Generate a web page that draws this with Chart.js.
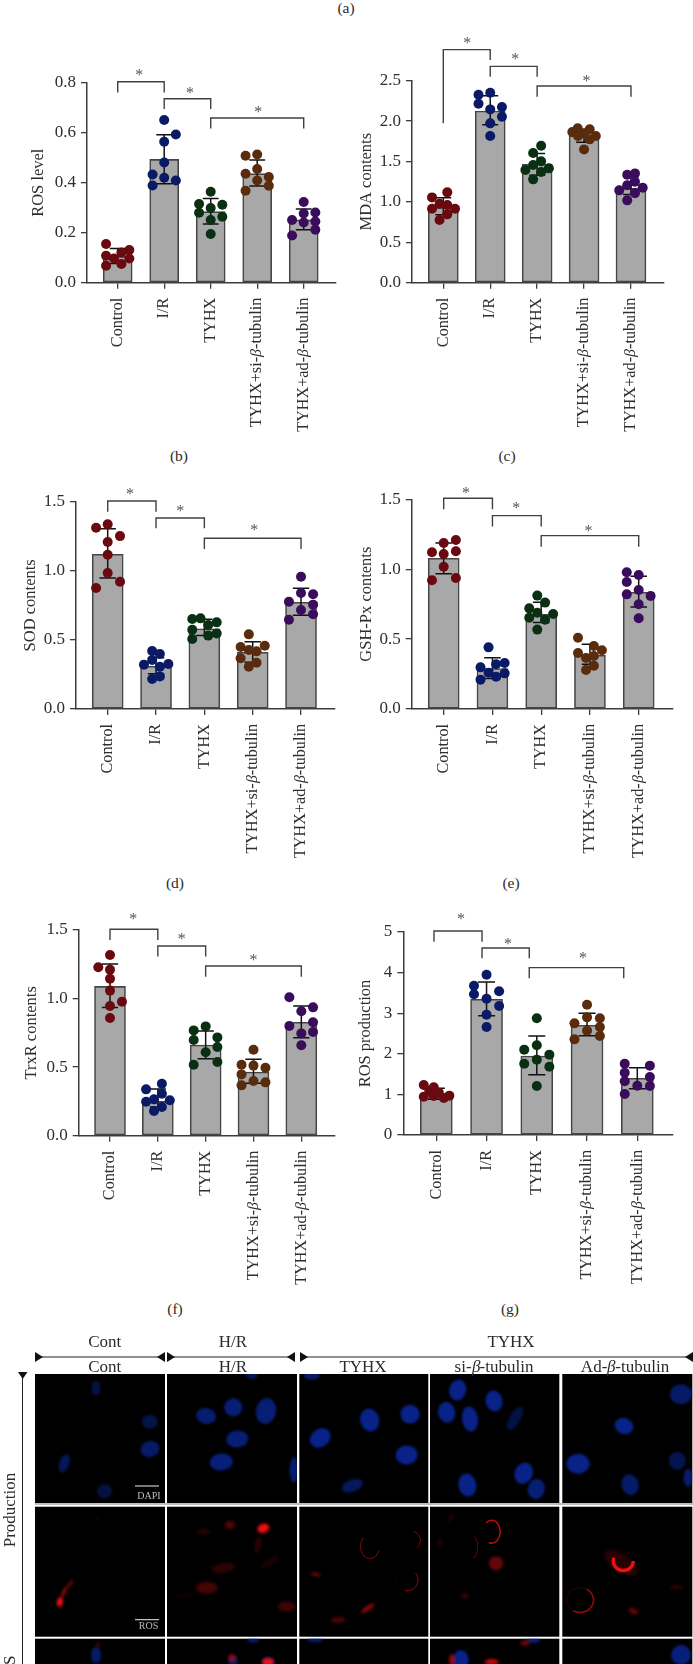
<!DOCTYPE html>
<html>
<head>
<meta charset="utf-8">
<script src="https://cdn.jsdelivr.net/npm/chart.js@4"></script>
<style>
@font-face { font-family: "SerifBeta"; src: local("Liberation Serif Italic"); unicode-range: U+3B2; }
html, body { margin: 0; padding: 0; background: #fff; }
#page { position: relative; width: 693px; height: 1664px; overflow: hidden; font-family: "SerifBeta", "Liberation Serif", serif; color: #2b2b2b; }
#page canvas { position: absolute; }
.lbl { position: absolute; white-space: nowrap; transform: translate(-50%, -50%); line-height: 1; }
</style>
</head>
<body>
<div id="page"></div>
<script>
const groups = ["Control", "I/R", "TYHX", "TYHX+si-β-tubulin", "TYHX+ad-β-tubulin"];
const dotColors = ["#6a0a10", "#0b1a66", "#0a3014", "#5a2c0e", "#3a0c5c"];

// (b) ROS level
const rosMean = [0.105, 0.493, 0.284, 0.436, 0.251];
const rosHigh = [0.137, 0.592, 0.337, 0.491, 0.295];
const rosLow = [0.077, 0.396, 0.235, 0.387, 0.212];
const rosDots = [
    [0.155, 0.131, 0.108, 0.121, 0.097, 0.097, 0.068, 0.075],
    [0.651, 0.593, 0.564, 0.481, 0.433, 0.42, 0.409, 0.389],
    [0.364, 0.315, 0.312, 0.299, 0.28, 0.264, 0.251, 0.195],
    [0.508, 0.513, 0.455, 0.436, 0.423, 0.409, 0.388, 0.368],
    [0.323, 0.277, 0.281, 0.251, 0.241, 0.245, 0.212, 0.189]
];
const rosJitter = [
    [-0.25, 0.25, -0.25, 0.08, -0.08, 0.25, -0.25, 0.08],
    [0, 0.25, 0, 0, -0.25, 0, 0.25, -0.25],
    [0, -0.25, 0.25, 0, -0.25, 0.25, 0, 0],
    [-0.25, 0, 0, -0.25, 0.25, 0, 0.25, -0.25],
    [0, 0, 0.25, -0.25, 0, 0.25, 0.25, -0.25]
];
const rosBrackets = [[0, 1, 0.761, 0.761, 0.804], [1, 2, 0.695, 0.695, 0.736], [2, 4, 0.617, 0.617, 0.659]];
const rosStars = [[0.466, 0.835], [1.556, 0.763], [3.025, 0.688]];

// (c) MDA contents
const mdaMean = [0.93, 2.125, 1.465, 1.82, 1.17];
const mdaHigh = [1.05, 2.314, 1.6, 1.9, 1.31];
const mdaLow = [0.84, 1.955, 1.33, 1.737, 1.093];
const mdaDots = [
    [1.118, 1.056, 0.978, 0.961, 0.916, 0.916, 0.846, 0.776],
    [2.35, 2.327, 2.215, 2.174, 2.145, 2.054, 1.972, 1.815],
    [1.696, 1.605, 1.502, 1.456, 1.394, 1.37, 1.415, 1.279],
    [1.91, 1.9, 1.865, 1.848, 1.815, 1.815, 1.774, 1.65],
    [1.337, 1.353, 1.205, 1.25, 1.143, 1.176, 1.106, 1.019]
];
const mdaJitter = [
    [0.085, -0.24, -0.08, 0.085, -0.24, 0.25, 0.085, -0.08],
    [0, -0.25, -0.25, 0.25, 0, 0.25, 0, 0],
    [0.085, -0.085, 0.085, -0.085, -0.25, 0.085, 0.25, -0.085],
    [-0.135, 0.12, -0.25, 0, -0.13, 0.25, 0.12, 0],
    [-0.08, 0.085, -0.08, 0.085, -0.25, 0.25, 0.085, -0.08]
];
const mdaBrackets = [[0, 1, 1.972, 2.756, 2.884], [1, 2, 2.55, 2.55, 2.677], [2, 4, 2.302, 2.302, 2.434]];
const mdaStars = [[0.51, 2.983], [1.535, 2.785], [3.05, 2.512]];

// (d) SOD contents
const sodMean = [1.119, 0.31, 0.581, 0.41, 0.772];
const sodHigh = [1.305, 0.37, 0.649, 0.487, 0.873];
const sodLow = [0.948, 0.255, 0.531, 0.338, 0.678];
const sodDots = [
    [1.336, 1.312, 1.251, 1.208, 1.116, 0.984, 0.921, 0.875],
    [0.42, 0.398, 0.354, 0.321, 0.326, 0.306, 0.236, 0.217],
    [0.651, 0.656, 0.627, 0.608, 0.574, 0.547, 0.531, 0.506],
    [0.54, 0.449, 0.458, 0.427, 0.417, 0.367, 0.335, 0.306],
    [0.957, 0.839, 0.83, 0.776, 0.755, 0.716, 0.685, 0.646]
];
const sodJitter = [
    [0, -0.24, 0.255, 0, 0, 0, 0.255, -0.24],
    [-0.08, 0.08, -0.08, -0.25, 0.255, 0.08, 0.08, -0.08],
    [-0.25, -0.08, 0.255, 0.08, -0.25, 0.255, 0.08, -0.25],
    [-0.08, -0.25, 0.25, -0.08, 0.08, -0.25, 0.08, -0.08],
    [0, 0, 0.25, -0.25, 0.25, 0, 0.25, -0.25]
];
const sodBrackets = [[0, 1, 1.428, 1.428, 1.505], [1, 2, 1.307, 1.307, 1.382], [2, 4, 1.157, 1.157, 1.235]];
const sodStars = [[0.462, 1.565], [1.503, 1.44], [3.03, 1.302]];

// (e) GSH-Px contents
const gshMean = [1.078, 0.289, 0.677, 0.384, 0.835];
const gshHigh = [1.188, 0.367, 0.763, 0.463, 0.949];
const gshLow = [0.968, 0.219, 0.618, 0.32, 0.73];
const gshDots = [
    [1.209, 1.188, 1.121, 1.128, 1.109, 1.018, 0.937, 0.921],
    [0.441, 0.32, 0.329, 0.298, 0.26, 0.255, 0.231, 0.21],
    [0.811, 0.761, 0.72, 0.689, 0.68, 0.653, 0.639, 0.568],
    [0.51, 0.451, 0.42, 0.401, 0.365, 0.379, 0.31, 0.279],
    [0.978, 0.959, 0.909, 0.851, 0.82, 0.808, 0.749, 0.649]
];
const gshJitter = [
    [0.25, 0, -0.24, 0.25, 0, 0, 0.25, -0.24],
    [-0.08, 0.075, 0.25, -0.245, -0.08, 0.25, 0.075, -0.245],
    [-0.08, 0.08, -0.245, -0.08, 0.245, -0.245, 0.08, -0.08],
    [-0.245, 0.08, 0.245, -0.245, -0.08, 0.08, 0.08, -0.08],
    [-0.245, 0, -0.245, 0, -0.245, 0.245, 0, 0]
];
const gshBrackets = [[0, 1, 1.429, 1.429, 1.507], [1, 2, 1.305, 1.305, 1.383], [2, 4, 1.161, 1.161, 1.24]];
const gshStars = [[0.458, 1.555], [1.49, 1.448], [2.97, 1.281]];

// (f) TrxR contents
const trxMean = [1.089, 0.25, 0.661, 0.464, 0.827];
const trxHigh = [1.252, 0.34, 0.763, 0.557, 0.946];
const trxLow = [0.934, 0.209, 0.562, 0.382, 0.715];
const trxDots = [
    [1.318, 1.228, 1.211, 1.145, 1.058, 0.977, 0.946, 0.858],
    [0.379, 0.338, 0.306, 0.248, 0.265, 0.258, 0.209, 0.18],
    [0.768, 0.797, 0.698, 0.717, 0.647, 0.608, 0.518, 0.537],
    [0.627, 0.518, 0.511, 0.496, 0.447, 0.399, 0.389, 0.367],
    [1.009, 0.936, 0.907, 0.8, 0.827, 0.746, 0.756, 0.659]
];
const trxJitter = [
    [0, -0.245, 0, 0, 0, 0.25, 0, 0],
    [0.085, -0.245, 0.085, -0.245, -0.08, 0.25, 0.085, -0.08],
    [-0.25, 0, -0.25, 0.245, 0.245, 0, -0.25, 0.245],
    [0, -0.25, 0, 0.25, -0.25, 0, 0.25, -0.25],
    [-0.25, 0.245, 0, -0.25, 0.245, 0, 0.245, 0]
];
const trxBrackets = [[0, 1, 1.427, 1.427, 1.505], [1, 2, 1.306, 1.306, 1.383], [2, 4, 1.16, 1.16, 1.238]];
const trxStars = [[0.488, 1.59], [1.5, 1.444], [3.0, 1.289]];

// (g) ROS production
const prodMean = [1.0, 3.342, 1.946, 2.701, 1.396];
const prodHigh = [1.15, 3.768, 2.438, 2.997, 1.658];
const prodLow = [0.88, 2.939, 1.486, 2.447, 1.141];
const prodDots = [
    [1.232, 1.174, 0.944, 0.961, 0.911, 0.969, 1.043, 1.092],
    [3.949, 3.678, 3.539, 3.465, 3.358, 3.177, 2.964, 2.66],
    [2.874, 2.102, 2.209, 1.979, 1.856, 1.757, 1.683, 1.207],
    [3.21, 2.75, 2.898, 2.874, 2.66, 2.57, 2.438, 2.356],
    [1.757, 1.708, 1.535, 1.429, 1.322, 1.215, 1.207, 1.01]
];
const prodJitter = [
    [-0.25, -0.05, -0.25, -0.05, 0.15, 0.26, 0.05, -0.14],
    [0, -0.25, 0.25, -0.25, 0, 0.25, 0, 0],
    [0, -0.25, 0, 0.25, 0, -0.25, 0.25, 0],
    [0, -0.25, 0, 0.255, 0.255, 0, 0.255, -0.25],
    [-0.25, 0.25, -0.25, 0.25, -0.25, 0, 0.25, -0.25]
];
const prodBrackets = [[-0.046, 0.91, 4.762, 4.762, 5.025], [0.91, 1.85, 4.351, 4.351, 4.606], [1.85, 3.73, 3.859, 3.859, 4.122]];
const prodStars = [[0.49, 5.36], [1.426, 4.737], [2.92, 4.392]];

const FONT = '"SerifBeta", "Liberation Serif", serif';
const INK = "#2e2e2e";
const AXIS = "#3c3c3c";

const panels = [
    { id: "ros", title: "ROS level", yMax: 0.8, step: 0.2, mean: rosMean, high: rosHigh, low: rosLow, dots: rosDots, jitter: rosJitter, brackets: rosBrackets, stars: rosStars,
      box: [0, 20, 346, 420], left: 87, right: 336, top: 82.7, base: 282.7, c0: 117.7, gap: 46.5, barW: 29, titleX: 36.7 },
    { id: "mda", title: "MDA contents", yMax: 2.5, step: 0.5, mean: mdaMean, high: mdaHigh, low: mdaLow, dots: mdaDots, jitter: mdaJitter, brackets: mdaBrackets, stars: mdaStars,
      box: [346, 20, 347, 420], left: 412, right: 663.3, top: 80.7, base: 282.7, c0: 443.3, gap: 46.92, barW: 30, titleX: 364.3 },
    { id: "sod", title: "SOD contents", yMax: 1.5, step: 0.5, mean: sodMean, high: sodHigh, low: sodLow, dots: sodDots, jitter: sodJitter, brackets: sodBrackets, stars: sodStars,
      box: [0, 470, 346, 400], left: 76, right: 334.7, top: 501.7, base: 709, c0: 107.7, gap: 48.33, barW: 31, titleX: 29 },
    { id: "gsh", title: "GSH-Px contents", yMax: 1.5, step: 0.5, mean: gshMean, high: gshHigh, low: gshLow, dots: gshDots, jitter: gshJitter, brackets: gshBrackets, stars: gshStars,
      box: [346, 470, 347, 400], left: 411.7, right: 672.7, top: 499.3, base: 709, c0: 443.7, gap: 48.75, barW: 31, titleX: 364.3 },
    { id: "trx", title: "TrxR contents", yMax: 1.5, step: 0.5, mean: trxMean, high: trxHigh, low: trxLow, dots: trxDots, jitter: trxJitter, brackets: trxBrackets, stars: trxStars,
      box: [0, 900, 346, 395], left: 78.7, right: 334.7, top: 930, base: 1135.7, c0: 110, gap: 47.83, barW: 31, titleX: 29.3 },
    { id: "prod", title: "ROS production", yMax: 5, step: 1, mean: prodMean, high: prodHigh, low: prodLow, dots: prodDots, jitter: prodJitter, brackets: prodBrackets, stars: prodStars,
      box: [346, 900, 347, 395], left: 403.3, right: 672.3, top: 932, base: 1135, c0: 436.3, gap: 50.25, barW: 32, titleX: 363.3 }
];

// the stars above each bracket
const starPlugin = {
    id: "stars",
    afterDatasetsDraw(chart, args, opts) {
        const { ctx, scales } = chart;
        ctx.save();
        ctx.font = "16px " + FONT;
        ctx.fillStyle = "#555";
        ctx.textAlign = "center";
        ctx.textBaseline = "middle";
        opts.points.forEach(([x, y]) => ctx.fillText("*", scales.x.getPixelForValue(x), scales.y.getPixelForValue(y) + 2));
        ctx.restore();
    }
};

const capHalf = 0.17;

const createPanel = (p) => {
    const canvas = document.createElement("canvas");
    const [bx, by, bw, bh] = p.box;
    canvas.style.left = bx + "px";
    canvas.style.top = by + "px";
    canvas.width = bw;
    canvas.height = bh;
    document.getElementById("page").appendChild(canvas);

    const datasets = [];

    datasets.push({
        type: "bar",
        data: p.mean.map((y, i) => ({ x: i, y: y })),
        backgroundColor: "#a8a8a8",
        borderColor: "#454545",
        borderWidth: 1.6,
        borderSkipped: false,
        barThickness: p.barW,
        order: 5
    });

    const errorData = [];
    p.mean.forEach((m, i) => {
        errorData.push({ x: i, y: p.low[i] }, { x: i, y: p.high[i] }, { x: i, y: null });
        errorData.push({ x: i - capHalf, y: p.high[i] }, { x: i + capHalf, y: p.high[i] }, { x: i, y: null });
        errorData.push({ x: i - capHalf, y: p.low[i] }, { x: i + capHalf, y: p.low[i] }, { x: i, y: null });
    });
    datasets.push({
        type: "line",
        data: errorData,
        borderColor: "#111",
        borderWidth: 1.5,
        pointRadius: 0,
        spanGaps: false,
        order: 4
    });

    p.dots.forEach((vals, g) => {
        datasets.push({
            type: "scatter",
            data: vals.map((y, k) => ({ x: g + p.jitter[g][k], y: y })),
            backgroundColor: dotColors[g],
            borderWidth: 0,
            pointRadius: 5,
            clip: false,
            order: 3
        });
    });

    p.brackets.forEach(([a, b, legA, legB, topY]) => {
        datasets.push({
            type: "line",
            data: [{ x: a, y: legA }, { x: a, y: topY }, { x: b, y: topY }, { x: b, y: legB }],
            borderColor: "#404040",
            borderWidth: 1.4,
            pointRadius: 0,
            clip: false,
            order: 1
        });
    });

    new Chart(canvas, {
        data: { datasets: datasets },
        plugins: [starPlugin],
        options: {
            responsive: false,
            animation: false,
            events: [],
            layout: { padding: { left: 0, top: p.top - by, right: bx + bw - p.right, bottom: 0 } },
            plugins: { legend: { display: false }, tooltip: { enabled: false }, stars: { points: p.stars } },
            scales: {
                x: {
                    type: "linear",
                    offset: false,
                    min: (p.left - p.c0) / p.gap,
                    max: (p.right - p.c0) / p.gap,
                    afterBuildTicks: (scale) => { scale.ticks = groups.map((g, i) => ({ value: i })); },
                    afterFit: (scale) => { scale.height = by + bh - p.base; },
                    grid: { offset: false, drawOnChartArea: false, color: AXIS, lineWidth: 1.3, tickLength: 6 },
                    border: { color: AXIS, width: 1.5 },
                    ticks: {
                        autoSkip: false,
                        minRotation: 90,
                        maxRotation: 90,
                        padding: 9,
                        color: INK,
                        font: { family: FONT, size: 16.2 },
                        callback: (v) => groups[v]
                    }
                },
                y: {
                    min: 0,
                    max: p.yMax,
                    afterFit: (scale) => { scale.width = p.left - bx; },
                    grid: { drawOnChartArea: false, color: AXIS, lineWidth: 1.3, tickLength: 6 },
                    border: { color: AXIS, width: 1.5 },
                    ticks: {
                        stepSize: p.step,
                        padding: 5,
                        color: INK,
                        font: { family: FONT, size: 17 },
                        callback: (v) => p.yMax === 5 ? String(v) : v.toFixed(1)
                    },
                    title: {
                        display: true,
                        text: p.title,
                        color: INK,
                        font: { family: FONT, size: 16.5 },
                        padding: { top: p.titleX - bx - 8, bottom: 0 }
                    }
                }
            }
        }
    });
};

// captions, page px
const captions = [["(a)", 346, 8], ["(b)", 179, 456], ["(c)", 507, 456], ["(d)", 175, 883], ["(e)", 511, 883], ["(f)", 175, 1309], ["(g)", 510, 1309]];

// header of the microscopy plate
const plateHeads = [
    ["Cont", 104.7, 1341], ["H/R", 233, 1341], ["TYHX", 511, 1341],
    ["Cont", 104.7, 1366], ["H/R", 233, 1366], ["TYHX", 363, 1366], ["si-β-tubulin", 494, 1366], ["Ad-β-tubulin", 625, 1366]
];
const plateColumns = [[35, 130], [167, 130], [299.3, 129], [430, 129.3], [562.3, 130]];
const plateRows = [[1374, 129], [1506.7, 130], [1638.7, 26]];
const plateSpans = [[35, 165], [167, 295], [300, 693]];

// nuclei in the photos: x, y, rx, ry, rotation, strength
const nuclei = [
    [96, 1388, 4.5, 7.5, 0, 0.45], [149.7, 1421.7, 8, 7, 0, 0.5], [150, 1449, 9.5, 8, -15, 0.75], [64.3, 1463.3, 5, 9.5, 20, 0.6], [104.7, 1491.3, 7.5, 7, 0, 0.45],
    [251.7, 1375, 6, 4, 0, 0.6], [206, 1416, 10, 8, 10, 0.8], [233.3, 1407.3, 9, 9, 0, 0.85], [266, 1411, 10, 13, 10, 0.85], [237.3, 1439, 11, 8.5, -5, 0.85], [221.3, 1462, 11.5, 8.5, -5, 0.9], [294, 1470, 4.5, 12.5, 0, 0.8],
    [311.7, 1375.7, 8, 4, 0, 0.75], [369.7, 1420, 9.5, 11.5, -15, 1], [410, 1414.3, 9.5, 9.5, 0, 1], [320.3, 1438, 11, 9, -35, 1], [406.7, 1455, 11, 9.5, -5, 1], [352.3, 1485.7, 11, 6, -20, 0.65],
    [457.7, 1390, 8.5, 10.5, 15, 1], [494, 1401, 8.5, 10.5, -10, 1], [446.7, 1412.3, 8.5, 10.5, -10, 1], [470, 1419, 8, 12.5, -8, 1], [515, 1418.3, 5.5, 13, 30, 0.45], [523.7, 1473.3, 9, 11, 25, 1], [467.3, 1485, 9, 11.5, -10, 1], [536.3, 1489, 8.5, 10, 15, 0.85],
    [681, 1394.3, 11, 10, 0, 0.75], [624, 1426, 9.5, 8, 20, 1], [677.3, 1460.7, 8.5, 9, 0, 0.55], [578, 1463.7, 11.5, 10, 0, 1], [688, 1477.7, 4.5, 9, 0, 0.8], [630, 1484.7, 8.5, 10.5, -15, 0.75],
    [96, 1655, 5, 8, 0, 0.75], [253.3, 1640, 6, 3, 0, 0.7], [233, 1661, 5, 5, 0, 0.6], [268, 1662, 6, 5, 0, 0.7], [315, 1639.5, 8, 3, 0, 0.7], [460.7, 1660, 8, 10, 0, 1], [533.3, 1640, 7, 3, 0, 0.85], [681, 1655, 10, 10, 0, 0.9]
];
// soft red glow: x, y, rx, ry, rotation, strength
const glows = [
    [60, 1602, 3, 5, 10, 1], [64, 1592, 1.4, 6, 25, 0.75], [70, 1584, 1, 5, 35, 0.7], [98, 1519, 2, 2, 0, 0.12],
    [263.3, 1528.3, 6, 4.5, -20, 1], [230, 1525, 5, 4, 0, 0.35], [203.3, 1531.7, 7, 3, 0, 0.15], [206.7, 1587.7, 11, 6, 0, 0.28], [223.3, 1568, 12, 5, -10, 0.18], [286.7, 1606.7, 9, 5, 0, 0.25], [258, 1545, 3, 8, 10, 0.18], [270, 1562, 10, 3, -30, 0.12], [185, 1595, 12, 2, -10, 0.07],
    [315.7, 1574.3, 5, 1.6, 15, 0.5], [367.7, 1608.3, 8, 2.4, -35, 0.55], [338.3, 1620, 8, 3, -5, 0.3],
    [496, 1563.3, 7, 7, 0, 0.42], [465, 1595.7, 4, 3, 0, 0.2], [451, 1518, 2, 4, 30, 0.15], [440, 1542, 1.5, 5, 0, 0.2],
    [633.3, 1611, 5, 2.6, 25, 0.45], [676.7, 1587.3, 7, 2, 0, 0.2], [621, 1563, 19, 9, 35, 0.16],
    [98, 1645, 2, 3, 0, 0.25], [268, 1662, 6, 4, 0, 1], [232, 1658, 4, 4, 0, 0.5], [452, 1660, 3, 6, 0, 0.6], [491.7, 1662, 7, 3, 0, 0.8], [525, 1643, 5, 3, 0, 0.4]
];
// red rings round the nuclei: x, y, rx, ry, from, to (degrees), width, strength
const rings = [
    [370, 1546.7, 9.5, 12, 20, 230, 1, 0.55], [410, 1540.7, 10.5, 10, -70, 50, 1, 0.5], [406.7, 1580, 11.5, 11, -40, 100, 1, 0.6], [406.7, 1580, 11.5, 11, 100, 260, 0.7, 0.14],
    [491.7, 1531.7, 8.5, 11.5, -130, 110, 1.5, 0.8], [471.7, 1546.7, 6, 12, -70, 80, 1, 0.4],
    [623.3, 1561, 10, 9.5, 0, 200, 3.4, 1], [580, 1600, 13.5, 12.5, -60, 120, 1.7, 0.6], [580, 1600, 13.5, 12.5, 120, 300, 0.9, 0.2]
];

const drawPlate = () => {
    const canvas = document.createElement("canvas");
    canvas.style.left = "0px";
    canvas.style.top = "1330px";
    canvas.width = 693;
    canvas.height = 334;
    document.getElementById("page").appendChild(canvas);
    const ctx = canvas.getContext("2d");
    ctx.translate(0, -1330);

    // thin grey band between the first two rows
    ctx.fillStyle = "#bdbdbd";
    ctx.fillRect(35, 1503, 658, 2);

    ctx.fillStyle = "#000";
    plateColumns.forEach(([x, w]) => plateRows.forEach(([y, h]) => ctx.fillRect(x, y, w, h)));

    ctx.save();
    ctx.beginPath();
    plateColumns.forEach(([x, w]) => plateRows.forEach(([y, h]) => ctx.rect(x, y, w, h)));
    ctx.clip();

    ctx.filter = "blur(1px)";
    nuclei.forEach(([x, y, rx, ry, rot, s]) => {
        ctx.fillStyle = "rgb(" + Math.round(8 * s) + "," + Math.round(30 * s + 4) + "," + Math.round(128 * s + 8) + ")";
        ctx.beginPath();
        ctx.ellipse(x, y, rx, ry, rot * Math.PI / 180, 0, Math.PI * 2);
        ctx.fill();
    });
    ctx.filter = "blur(1.8px)";
    glows.forEach(([x, y, rx, ry, rot, s]) => {
        ctx.fillStyle = "rgba(240,14,16," + s + ")";
        ctx.beginPath();
        ctx.ellipse(x, y, rx, ry, rot * Math.PI / 180, 0, Math.PI * 2);
        ctx.fill();
    });
    ctx.filter = "blur(0.6px)";
    rings.forEach(([x, y, rx, ry, a, b, w, s]) => {
        ctx.strokeStyle = "rgba(240,14,16," + s + ")";
        ctx.lineWidth = w;
        ctx.beginPath();
        ctx.ellipse(x, y, rx, ry, 0, a * Math.PI / 180, b * Math.PI / 180);
        ctx.stroke();
    });
    ctx.filter = "none";
    ctx.restore();

    // scale bars
    ctx.fillStyle = "#eee";
    ctx.fillRect(135, 1485.5, 24, 1);
    ctx.fillRect(135, 1619.2, 24, 1);

    // column brackets with end arrows
    ctx.fillStyle = "#111";
    ctx.strokeStyle = "#222";
    ctx.lineWidth = 1;
    plateSpans.forEach(([a, b]) => {
        ctx.beginPath();
        ctx.moveTo(a, 1357);
        ctx.lineTo(b, 1357);
        ctx.stroke();
        ctx.beginPath();
        ctx.moveTo(a, 1352);
        ctx.lineTo(a + 8, 1357);
        ctx.lineTo(a, 1362);
        ctx.fill();
        ctx.beginPath();
        ctx.moveTo(b, 1352);
        ctx.lineTo(b - 8, 1357);
        ctx.lineTo(b, 1362);
        ctx.fill();
    });

    // row arrow on the left
    ctx.beginPath();
    ctx.moveTo(22.5, 1372);
    ctx.lineTo(22.5, 1664);
    ctx.stroke();
    ctx.beginPath();
    ctx.moveTo(18, 1372);
    ctx.lineTo(27.5, 1372);
    ctx.lineTo(22.7, 1379);
    ctx.fill();
};

const addLabel = (text, x, y, size, color, extra) => {
    const el = document.createElement("div");
    el.className = "lbl";
    el.textContent = text;
    el.style.left = x + "px";
    el.style.top = y + "px";
    el.style.fontSize = size + "px";
    if (color) el.style.color = color;
    if (extra) Object.assign(el.style, extra);
    document.getElementById("page").appendChild(el);
};

const drawAll = () => {
    panels.forEach(createPanel);
    drawPlate();
    captions.forEach(([t, x, y]) => addLabel(t, x, y, 15.5));
    plateHeads.forEach(([t, x, y]) => addLabel(t, x, y, 17));
    addLabel("DAPI", 149, 1496, 10, "#bbb");
    addLabel("ROS", 148.5, 1626, 10, "#bbb");
    const sideways = { transform: "translate(-50%, -50%) rotate(-90deg)" };
    addLabel("Production", 9, 1509.5, 17, null, sideways);
    addLabel("ROS", 9, 1672, 17, null, sideways);
};

document.fonts.load('16px "SerifBeta"', "β").then(drawAll, drawAll);
</script>
</body>
</html>
